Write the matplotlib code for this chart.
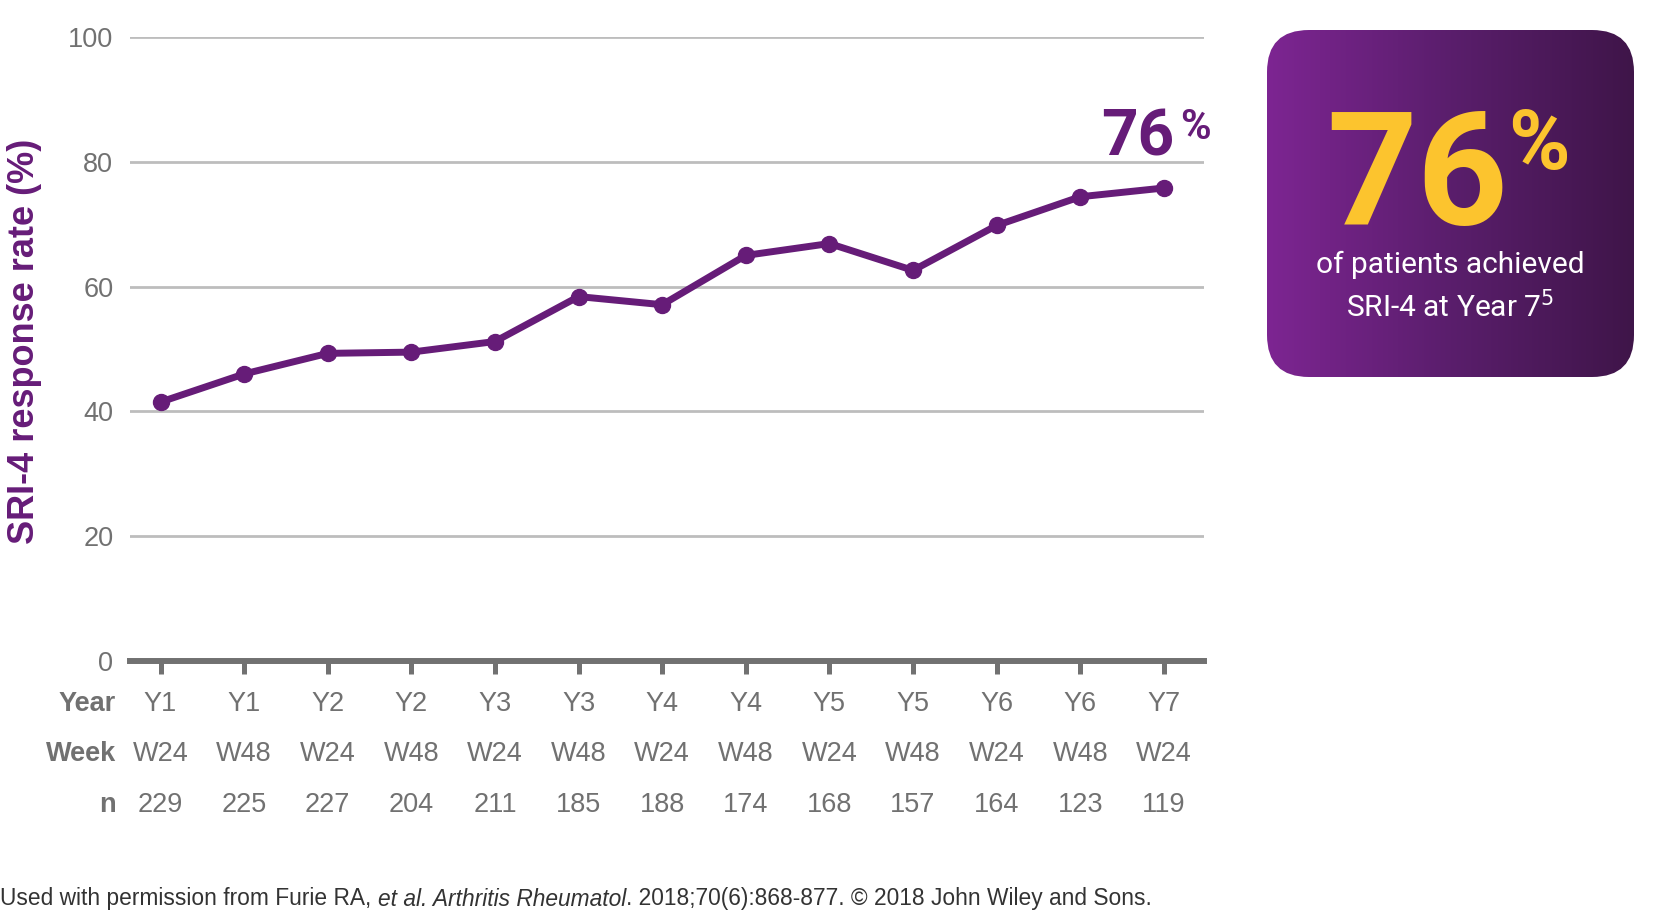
import matplotlib.pyplot as plt
import numpy as np
from matplotlib.patches import FancyBboxPatch
from matplotlib.colors import LinearSegmentedColormap
from matplotlib.transforms import blended_transform_factory

plt.rcParams['font.family'] = ['Liberation Sans', 'DejaVu Sans']

# data
years = ['Y1', 'Y1', 'Y2', 'Y2', 'Y3', 'Y3', 'Y4', 'Y4', 'Y5', 'Y5', 'Y6', 'Y6', 'Y7']
weeks = ['W24', 'W48', 'W24', 'W48', 'W24', 'W48', 'W24', 'W48', 'W24', 'W48', 'W24', 'W48', 'W24']
n_pts = ['229', '225', '227', '204', '211', '185', '188', '174', '168', '157', '164', '123', '119']
sri4 = [41.5, 46.0, 49.3, 49.5, 51.2, 58.4, 57.1, 65.0, 66.9, 62.6, 69.8, 74.4, 75.8]

purple = '#661c78'
gray = '#717171'
W, H = 1656, 918

fig = plt.figure(figsize=(W / 100, H / 100), dpi=100)
ax = fig.add_axes([130 / W, (H - 661) / H, (1204 - 130) / W, (661 - 37) / H])

x = np.arange(len(sri4))
ax.plot(x, sri4, color=purple, lw=5, marker='o', ms=11.5, zorder=5, clip_on=False)

ax.set_xlim(-0.365, 12.48)
ax.set_ylim(0, 100)
ax.set_yticks([0, 20, 40, 60, 80, 100])
for v in [20, 40, 60, 80, 100]:
    ax.axhline(v, color='#bdbdbd', lw=2, zorder=1)
for s in ['top', 'right', 'left']:
    ax.spines[s].set_visible(False)
ax.spines['bottom'].set_color(gray)
ax.spines['bottom'].set_linewidth(4.3)
ax.set_xticks(x)
ax.set_xticklabels([])
ax.tick_params(axis='x', length=9, width=3.6, color=gray, direction='out')
ax.tick_params(axis='y', length=0, pad=12, labelsize=19.5, labelcolor=gray)

ax.set_ylabel('SRI-4 response rate (%)', color=purple, fontsize=26,
              fontweight='bold')
ax.yaxis.set_label_coords(-0.082, 0.513)

# table under the axis
tr = blended_transform_factory(ax.transData, ax.transAxes)
rows = [('Year', years, -0.069), ('Week', weeks, -0.149), ('n', n_pts, -0.231)]
for head, labels, yy in rows:
    ax.text(-0.013, yy, head, transform=ax.transAxes, ha='right', va='center',
            fontsize=19.5, fontweight='bold', color=gray)
    for xi, lab in zip(x, labels):
        ax.text(xi, yy, lab, transform=tr, ha='center', va='center',
                fontsize=19.5, color=gray)

# end label
ax.text(12.13, 81.0, '76', fontsize=46, fontweight='bold', color=purple,
        ha='right', va='baseline', family='Roboto')
ax.text(12.19, 83.6, '%', fontsize=30, fontweight='bold', color=purple,
        ha='left', va='baseline', family='Roboto')

# callout box with gradient
bx = fig.add_axes([0, 0, 1, 1], zorder=-1)
bx.set_xlim(0, W)
bx.set_ylim(H, 0)
bx.axis('off')
x0, x1, y0, y1 = 1267, 1634, 30, 377
cmap = LinearSegmentedColormap.from_list('box', ['#7d2592', '#5a1e6c', '#3f1549'])
grad = np.linspace(0, 1, 256).reshape(1, -1)
im = bx.imshow(grad, cmap=cmap, extent=[x0, x1, y1, y0], aspect='auto')
patch = FancyBboxPatch((x0 + 42, y0 + 42), x1 - x0 - 84, y1 - y0 - 84,
                       boxstyle='round,pad=42', fc='none', ec='none')
bx.add_patch(patch)
im.set_clip_path(patch)

bx.text(1508, 224, '76', fontsize=114, fontweight='bold', color='#fcc42e',
        ha='right', va='baseline', family='Roboto')
bx.text(1508, 169, '%', fontsize=60, fontweight='bold', color='#fcc42e',
        ha='left', va='baseline', family='Roboto')
bx.text(1450, 265, 'of patients achieved', fontsize=21.5, color='white',
        ha='center', va='center', family='Roboto')
bx.text(1450, 307, 'SRI-4 at Year 7$^{5}$', fontsize=21.5, color='white',
        ha='center', va='center', family='Roboto')

# footnote, pieced together so the journal part is italic
fy = (H - 899) / H
t1 = fig.text(0, fy, 'Used with permission from Furie RA, ', fontsize=16.4,
              color='#333333', ha='left', va='center')
t2 = fig.add_artist(plt.Annotation('et al. Arthritis Rheumatol', xy=(1, 0), xycoords=t1,
                                   fontsize=16.4, style='italic', color='#333333',
                                   ha='left', va='bottom'))
t3 = fig.add_artist(plt.Annotation('. 2018;70(6):868-877. \u00a9 2018 John Wiley and Sons.',
                                   xy=(1, 0), xycoords=t2, fontsize=16.4, color='#333333',
                                   ha='left', va='bottom'))

fig.savefig('out.png', dpi=100)
